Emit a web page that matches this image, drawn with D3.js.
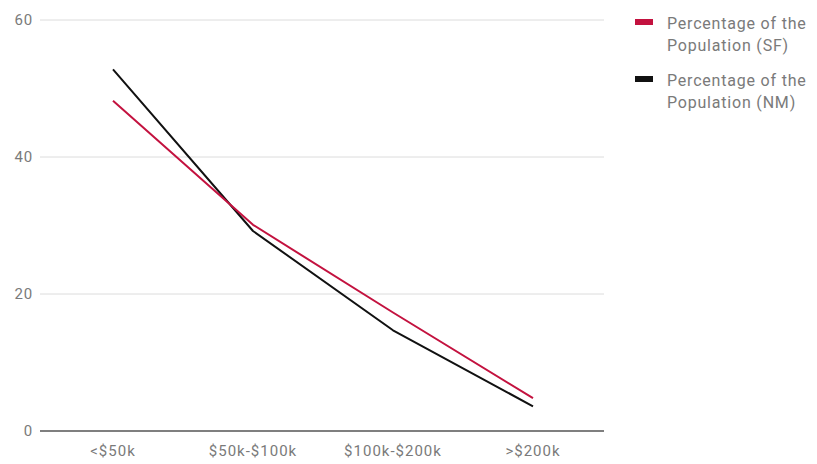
<!DOCTYPE html>
<html><head><meta charset="utf-8">
<script src="https://cdn.jsdelivr.net/npm/d3@7"></script>
<style>body{margin:0;background:#fff;} svg{display:block;font-family:Roboto,"Noto Sans",sans-serif;}</style>
</head><body><svg id="c" width="817" height="464"></svg>
<script>
const categories = ["<$50k", "$50k-$100k", "$100k-$200k", ">$200k"];
const sfValues = [48.2, 30.1, 17.3, 4.8];
const nmValues = [52.8, 29.2, 14.7, 3.6];
const yTicks = [0, 20, 40, 60];
const seriesNames = [["Percentage of the", "Population (SF)"], ["Percentage of the", "Population (NM)"]];
const colors = ["#c3123f", "#111111"];

const svg = d3.select("#c");
const x = d3.scaleBand().domain(categories).range([43, 603]);
const y = d3.scaleLinear().domain([0, 60]).range([431, 20]);

// gridlines
svg.append("g").selectAll("line").data(yTicks.filter(d => d !== 0)).join("line")
  .attr("x1", 40).attr("x2", 604).attr("y1", d => y(d)).attr("y2", d => y(d))
  .attr("stroke", "#dcdcdc").attr("stroke-width", 1);
svg.append("line").attr("x1", 40).attr("x2", 604).attr("y1", y(0)).attr("y2", y(0))
  .attr("stroke", "#555").attr("stroke-width", 1.5);

// y labels
svg.append("g").selectAll("text").data(yTicks).join("text")
  .attr("x", 33).attr("y", d => y(d)).attr("dy", "0.35em").attr("text-anchor", "end")
  .attr("font-size", 15).attr("letter-spacing", 0.8).attr("fill", "#7a7a7a").text(d => d);

// x labels
svg.append("g").selectAll("text").data(categories).join("text")
  .attr("x", d => x(d) + x.bandwidth() / 2).attr("y", 456).attr("text-anchor", "middle")
  .attr("font-size", 15).attr("letter-spacing", 1).attr("fill", "#7a7a7a").text(d => d);

const line = d3.line().x((d, i) => x(categories[i]) + x.bandwidth() / 2).y(d => y(d));
[[nmValues, colors[1]], [sfValues, colors[0]]].forEach(([vals, c]) => {
  svg.append("path").datum(vals).attr("d", line).attr("fill", "none")
    .attr("stroke", c).attr("stroke-width", 2).attr("stroke-linejoin", "round");
});

// legend
const leg = svg.append("g");
seriesNames.forEach((nm, i) => {
  const yy = 22 + i * 57;
  leg.append("rect").attr("x", 635).attr("y", yy - 3).attr("width", 18).attr("height", 6).attr("fill", colors[i]);
  nm.forEach((t, j) => {
    leg.append("text").attr("x", 667).attr("y", yy + 1 + j * 22).attr("dy", "0.35em")
      .attr("font-size", 16).attr("letter-spacing", 0.8).attr("fill", "#7a7a7a").text(t);
  });
});
</script></body></html>
